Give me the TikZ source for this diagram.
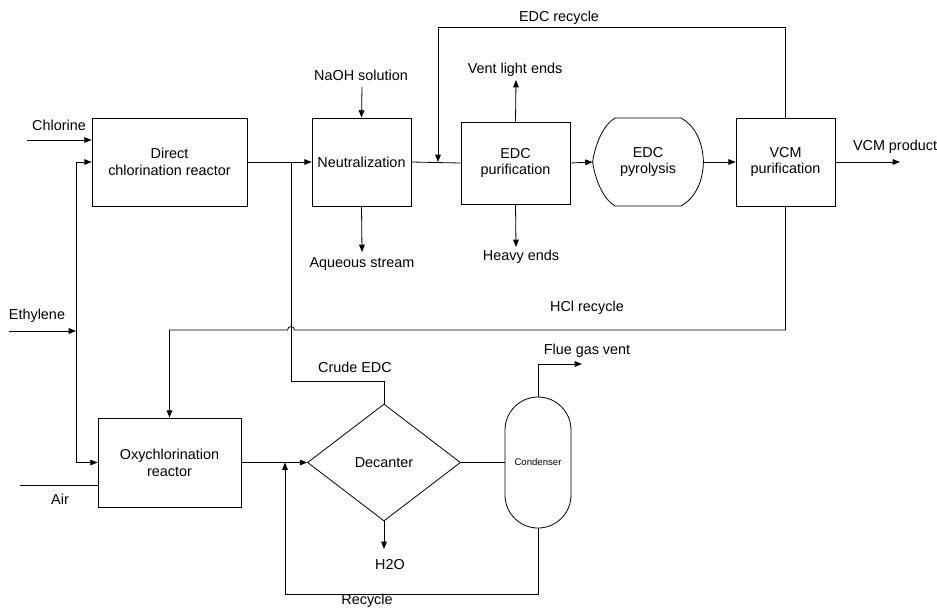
\documentclass[tikz,border=0pt]{standalone}
\usepackage{fontspec}
\setmainfont{Liberation Sans}
\usetikzlibrary{arrows.meta,shapes.geometric}
\begin{document}
\begin{tikzpicture}[x=0.75pt, y=-0.75pt, line width=0.6pt,
        font=\fontsize{10.8}{12.6}\selectfont,
        unit/.style={draw, rectangle, align=center, inner sep=2pt},
        lbl/.style={inner sep=1pt, align=center},
        flow/.style={-{Triangle[length=5.5pt, width=4.2pt]}}]
    \useasboundingbox (0,0) rectangle (937,608);
    % units
    \node [unit, minimum width=116.25pt, minimum height=66pt] (DCR) at (169.5,162) {Direct\\chlorination reactor};
    \node [unit, minimum width=74.25pt, minimum height=66pt] (NEU) at (361.5,162) {Neutralization};
    \node [unit, minimum width=81.75pt, minimum height=61.5pt] (EDCP) at (515.5,163) {EDC\\purification};
    \node [lbl, minimum width=82.5pt, minimum height=66pt] (PYR) at (648,162) {EDC\\pyrolysis};
    \node [unit, minimum width=74.25pt, minimum height=66pt] (VCM) at (785.5,162) {VCM\\purification};
    \node [unit, minimum width=107.25pt, minimum height=66.75pt] (OXY) at (169.5,462.5) {Oxychlorination\\reactor};
    \node [diamond, draw, inner sep=0pt, minimum width=114.75pt, minimum height=87.75pt] (DEC) at (384,462.5) {Decanter};
    \node [draw, rectangle, rounded corners=24.75pt, minimum width=49.5pt, minimum height=98.25pt,
        font=\fontsize{7.2}{9}\selectfont] (CON) at (538,462.5) {Condenser};
    \draw (PYR.west) .. controls (595,145) and (603,125) .. (615,118) -- (681,118)
        .. controls (697,127) and (703,145) .. (PYR.east)
        .. controls (703,179) and (697,197) .. (681,206) -- (615,206)
        .. controls (603,199) and (595,179) .. cycle;
    % labels
    \node [lbl] (CHL) at (59,125) {Chlorine};
    \node [lbl] (ETH) at (37,316) {Ethylene};
    \node [lbl] (AIR) at (60,499) {Air};
    \node [lbl] (NAOH) at (361,75) {NaOH solution};
    \node [lbl] (AQS) at (362,264) {Aqueous stream};
    \node [lbl] (VENT) at (515,70) {Vent light ends};
    \node [lbl] (HVY) at (521,257) {Heavy ends};
    \node [lbl] (EREC) at (559,18) {EDC recycle};
    \node [lbl] (VPROD) at (895,147) {VCM product};
    \node [lbl] (HREC) at (587,308) {HCl recycle};
    \node [lbl] (CRUDE) at (355,367) {Crude EDC};
    \node [lbl] (FLUE) at (587,351) {Flue gas vent};
    \node [lbl] (WAT) at (390,565) {H2O};
    \node [lbl] (RCY) at (367,601) {Recycle};
    % stream ends
    \coordinate (chlIn) at (27,140);
    \coordinate (ethIn) at (9,331);
    \coordinate (ethBus) at (76,331);
    \coordinate (airIn) at (20,485);
    \coordinate (naohIn) at (362,87);
    \coordinate (aqOut) at (362,252);
    \coordinate (ventOut) at (516,80);
    \coordinate (hvyOut) at (516,247);
    \coordinate (vcmOut) at (900,162);
    \coordinate (crudeJ) at (291,162);
    \coordinate (recJ) at (438,162);
    \coordinate (hop) at (291,330);
    \coordinate (flueOut) at (582,364);
    \coordinate (watOut) at (384,549);
    \coordinate (decIn) at (285,462.5);
    % streams
    \draw [flow] (chlIn) -- (chlIn -| DCR.west);
    \draw [flow] (ethIn) -- (ethBus);
    \draw [flow] (ethBus) |- (DCR.west);
    \draw [flow] (ethBus) |- (OXY.west);
    \draw (airIn) -- (airIn -| OXY.west);
    \draw [flow] (DCR.east) -- (NEU.west);
    \draw [flow] (naohIn) -- (NEU.north);
    \draw [flow] (NEU.south) -- (aqOut);
    \draw (NEU.east) -- (EDCP.west);
    \draw [flow] (EDCP.north) -- (ventOut);
    \draw [flow] (EDCP.south) -- (hvyOut);
    \draw [flow] (EDCP.east) -- (PYR.west);
    \draw [flow] (PYR.east) -- (VCM.west);
    \draw [flow] (VCM.east) -- (vcmOut);
    \draw [flow] (VCM.north) -- ++(0,-90) -| (recJ);
    \draw [flow] (VCM.south) |- ([xshift=2.6pt]hop) arc [start angle=0, end angle=180, radius=2.6pt]
        -- (hop -| OXY.north) -- (OXY.north);
    \draw (DEC.north) -- ++(0,-22) -| (crudeJ);
    \draw [flow] (OXY.east) -- (DEC.west);
    \draw [flow] (DEC.south) -- (watOut);
    \draw (DEC.east) -- (CON.west);
    \draw [flow] (CON.north) |- (flueOut);
    \draw [flow] (CON.south) -- ++(0,66) -| (decIn);
\end{tikzpicture}
\end{document}
